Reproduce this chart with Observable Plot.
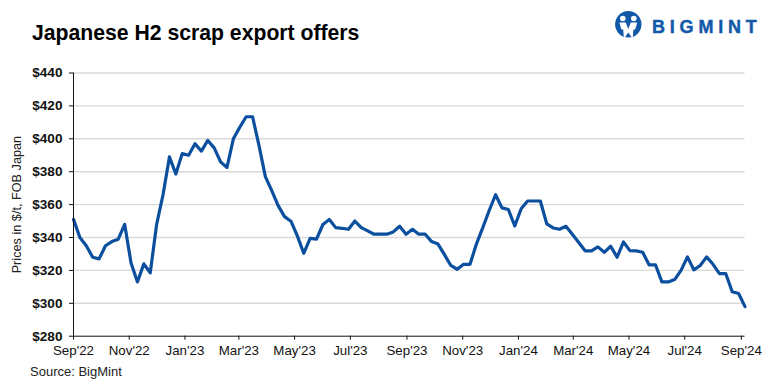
<!DOCTYPE html>
<html>
<head>
<meta charset="utf-8">
<script src="https://cdn.jsdelivr.net/npm/d3@7"></script>
<script src="https://cdn.jsdelivr.net/npm/@observablehq/plot@0.6"></script>
<style>
  html, body { margin: 0; padding: 0; background: #fff; }
  #page { position: relative; width: 768px; height: 384px; overflow: hidden; font-family: "Liberation Sans", Arial, sans-serif; }
  #title { position: absolute; left: 32px; top: 21px; font-size: 21.2px; font-weight: 700; color: #000; white-space: nowrap; }
  #chart { position: absolute; left: 0; top: 60px; }
  #source { position: absolute; left: 30px; top: 364px; font-size: 13px; color: #222; white-space: nowrap; }
  #logo { position: absolute; left: 610px; top: 6px; }
  svg { display: block; }
</style>
</head>
<body>
<div id="page">
  <div id="title">Japanese H2 scrap export offers</div>
  <svg id="logo" width="158" height="36" viewBox="0 0 158 36">
    <circle cx="18.3" cy="18.3" r="13.2" fill="#1258a8"/>
    <circle cx="12.8" cy="12.5" r="2.8" fill="#fff"/>
    <circle cx="23.8" cy="12.5" r="2.8" fill="#fff"/>
    <path d="M9.4 16.5 h6.4 l2.5 6.5 l2.5 -6.5 h6.4 l-2 7 h-1.8 l-0.6 8 h-1 l-3.5 -5 l-3.5 5 h-1 l-0.6 -8 h-1.8 z" fill="#fff"/>
    <text x="42" y="26.8" font-family="Liberation Sans, Arial, sans-serif" font-weight="700" font-size="18" letter-spacing="4.8" fill="#1258a8" stroke="#1258a8" stroke-width="0.4">BIGMINT</text>
  </svg>
  <div id="chart"></div>
  <div id="source">Source: BigMint</div>
</div>
<script>
const firstWeek = "2022-09-01";
const prices = [
  351, 340, 335, 328, 327, 335, 337.5, 339, 348, 324.5,
  313, 324, 318.5, 348, 366, 389, 378.6, 391, 390, 397,
  392.5, 399, 394.5, 386, 382.6, 400, 407, 413.4, 413.4, 396,
  377, 368.5, 359.4, 352.7, 349.9, 341, 330.4, 339.5, 339, 347.9,
  351, 346, 345.6, 345, 350, 346, 344, 342, 342, 342,
  343.4, 346.8, 342, 345, 342, 342, 337.5, 336, 329.6, 323,
  320.7, 323.7, 323.7, 336, 346, 356.4, 366, 358, 357, 347,
  357.5, 362.2, 362.2, 362.2, 348.3, 345.8, 345, 346.8, 342, 337,
  331.9, 331.9, 334.3, 331, 334.7, 328, 337.3, 332, 331.9, 331,
  323.4, 323.4, 313, 313, 314.4, 320, 328.2, 320.3, 323, 328.2,
  323.7, 318, 318, 307, 306, 298
];
const tickMonths = ["2022-09-01","2022-11-01","2023-01-01","2023-03-01","2023-05-01","2023-07-01","2023-09-01","2023-11-01","2024-01-01","2024-03-01","2024-05-01","2024-07-01","2024-09-01"];
const tickLabels = ["Sep'22","Nov'22","Jan'23","Mar'23","May'23","Jul'23","Sep'23","Nov'23","Jan'24","Mar'24","May'24","Jul'24","Sep'24"];
const yTicks = [280, 300, 320, 340, 360, 380, 400, 420, 440];
const yLabel = "Prices in $/t, FOB Japan";

const start = new Date(firstWeek);
const dates = prices.map((_, i) => d3.utcDay.offset(start, i * 7));
const table = prices.map((p, i) => ({date: dates[i], price: p}));
const tickDates = tickMonths.map(s => new Date(s));
const gridTicks = yTicks.filter(v => v !== 280);

const plot = Plot.plot({
  width: 768,
  height: 300,
  marginTop: 12.5,
  marginBottom: 24.3,
  marginLeft: 73,
  marginRight: 23.5,
  style: {background: "transparent", fontFamily: "Liberation Sans, Arial, sans-serif"},
  x: {type: "utc", domain: [start, dates[dates.length - 1]]},
  y: {domain: [280, 440]},
  marks: [
    Plot.ruleY(gridTicks, {stroke: "#d9d9d9", strokeWidth: 1.4}),
    Plot.line(table, {x: "date", y: "price", stroke: "#0b4f9e", strokeWidth: 3.2, curve: "linear", strokeLinejoin: "round"}),
    Plot.ruleX([start], {stroke: "#111", strokeWidth: 1}),
    Plot.ruleY([280], {stroke: "#111", strokeWidth: 1}),
    Plot.axisX({
      ticks: tickDates, tickSize: 4, tickPadding: 5.5, label: null, stroke: "#111", fontSize: 13.3, fill: "#111",
      tickFormat: d => tickLabels[tickDates.findIndex(t => +t === +d)]
    }),
    Plot.axisY({
      ticks: yTicks, tickSize: 4, tickPadding: 7, label: null, stroke: "#111", fontSize: 13.6, fontWeight: 700, fill: "#111",
      tickFormat: d => "$" + d
    }),
    Plot.text([yLabel], {frameAnchor: "left", rotate: -90, dx: -57, fontSize: 12.7, fill: "#222", textAnchor: "middle"})
  ]
});
document.getElementById("chart").appendChild(plot);
</script>
</body>
</html>
